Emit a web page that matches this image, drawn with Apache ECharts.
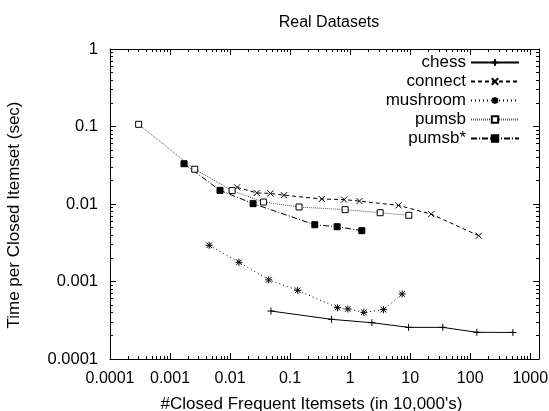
<!DOCTYPE html>
<html><head><meta charset="utf-8">
<script src="https://cdn.jsdelivr.net/npm/echarts@6/dist/echarts.min.js"></script>
<style>html,body{margin:0;padding:0;background:#fff}#c{width:549px;height:411px}</style>
</head><body><div id="c"></div>
<script>
const seriesNames = ['chess', 'connect', 'mushroom', 'pumsb', 'pumsb*'];
const chessX = [0.048, 0.49, 2.3, 9.4, 35, 129, 514];
const chessY = [0.000416, 0.000325, 0.000294, 0.000256, 0.000256, 0.000221, 0.00022];
const connectX = [0.0131, 0.0278, 0.047, 0.079, 0.337, 0.794, 1.43, 6.4, 22.4, 139];
const connectY = [0.0164, 0.0139, 0.0137, 0.0130, 0.0116, 0.0114, 0.0109, 0.0096, 0.0074, 0.0039];
const mushroomX = [0.0045, 0.0141, 0.044, 0.134, 0.615, 0.914, 1.69, 3.59, 7.36];
const mushroomY = [0.00293, 0.00177, 0.00105, 0.00077, 0.000459, 0.000442, 0.0004, 0.000433, 0.00069];
const pumsbX = [0.0003, 0.00258, 0.0108, 0.036, 0.141, 0.826, 3.16, 9.5];
const pumsbY = [0.1067, 0.0281, 0.0149, 0.0106, 0.00915, 0.00845, 0.00772, 0.00715];
const pumsbStarX = [0.00171, 0.0068, 0.0242, 0.258, 0.607, 1.565];
const pumsbStarY = [0.0331, 0.0150, 0.0101, 0.0054, 0.00509, 0.00453];
const xTickLabels = ['0.0001', '0.001', '0.01', '0.1', '1', '10', '100', '1000'];
const yTickLabels = ['0.0001', '0.001', '0.01', '0.1', '1'];
const titleText = 'Real Datasets';
const xName = "#Closed Frequent Itemsets (in 10,000's)";
const yName = 'Time per Closed Itemset (sec)';

const FONT = '"Liberation Sans", Arial, Helvetica, sans-serif';
const X_MIN = 0.0001, X_MAX = 1400, Y_MIN = 0.0001, Y_MAX = 1;

function minors(labels, maxV) {
  const out = [];
  labels.forEach(l => {
    const b = Number(l);
    for (let k = 2; k <= 9; k++) {
      const v = +(b * k).toPrecision(6);
      if (v <= maxV) out.push(v);
    }
  });
  return out;
}
const xMajors = xTickLabels.map(Number);
const yMajors = yTickLabels.map(Number);
const xMinors = minors(xTickLabels, X_MAX);
const yMinors = minors(yTickLabels, Y_MAX);

function fmt(labels, base) {
  return v => {
    const i = Math.round(Math.log10(v)) - base;
    return labels[i] !== undefined ? labels[i] : '';
  };
}
const black = {color: '#000', width: 1};

function xAxisDef(pos, major, main) {
  return {
    type: 'log', logBase: 10, min: X_MIN, max: X_MAX, position: pos, gridIndex: 0,
    axisLine: {show: major, lineStyle: black},
    axisTick: {show: true, inside: true, length: major ? 6 : 3, lineStyle: black,
               customValues: major ? xMajors : xMinors},
    axisLabel: main ? {show: true, customValues: xMajors, formatter: fmt(xTickLabels, -4),
               fontSize: 16, color: '#000', fontFamily: FONT, margin: 12} : {show: false},
    splitLine: {show: false}, minorTick: {show: false},
    name: main ? xName : '', nameLocation: 'middle', nameGap: 37,
    nameTextStyle: {fontSize: 17, color: '#000', fontFamily: FONT, padding: [0, 26, 0, 0]}
  };
}
function yAxisDef(pos, major, main) {
  return {
    type: 'log', logBase: 10, min: Y_MIN, max: Y_MAX, position: pos, gridIndex: 0,
    axisLine: {show: major, lineStyle: black},
    axisTick: {show: true, inside: true, length: major ? 6 : 3, lineStyle: black,
               customValues: major ? yMajors : yMinors},
    axisLabel: main ? {show: true, customValues: yMajors, formatter: fmt(yTickLabels, -4),
               fontSize: 16.5, color: '#000', fontFamily: FONT, margin: 12} : {show: false},
    splitLine: {show: false}, minorTick: {show: false},
    name: main ? yName : '', nameLocation: 'middle', nameGap: 87,
    nameTextStyle: {fontSize: 17, color: '#000', fontFamily: FONT, padding: [0, 22, 0, 0]}
  };
}

const SYM = {
  plus: 'path://M0,5L10,5M5,0L5,10',
  cross: 'path://M0,0L10,10M0,10L10,0',
  star: 'path://M0,5L10,5M5,0L5,10M1,1L9,9M1,9L9,1',
  square: 'path://M0,0L10,0L10,10L0,10Z'
};

function mk(name, xs, ys, sym, size, fill, dash, lineColor) {
  return {
    name: name, type: 'line', xAxisIndex: 0, yAxisIndex: 0,
    data: xs.map((v, i) => [v, ys[i]]),
    symbol: sym, symbolSize: size, showAllSymbol: true,
    lineStyle: {color: lineColor || '#000', width: 1, type: dash},
    itemStyle: {color: fill, borderColor: '#000', borderWidth: 1},
    emphasis: {disabled: true}
  };
}

const chart = echarts.init(document.getElementById('c'), null, {renderer: 'canvas'});
chart.setOption({
  animation: false,
  backgroundColor: '#fff',
  title: {text: titleText, left: 324, top: 10, textAlign: 'center',
          textStyle: {fontSize: 16, fontWeight: 'normal', color: '#000', fontFamily: FONT}},
  grid: {left: 110, right: 10, top: 49, bottom: 52, containLabel: false, outerBoundsMode: 'none'},
  legend: {
    orient: 'vertical', right: 24, top: 48, align: 'right',
    itemWidth: 48, itemHeight: 8, itemGap: 0,
    textStyle: {fontSize: 17, color: '#000', fontFamily: FONT, lineHeight: 19},
    data: seriesNames
  },
  xAxis: [xAxisDef('bottom', true, true), xAxisDef('bottom', false, false),
          xAxisDef('top', true, false), xAxisDef('top', false, false)],
  yAxis: [yAxisDef('left', true, true), yAxisDef('left', false, false),
          yAxisDef('right', true, false), yAxisDef('right', false, false)],
  series: [
    mk(seriesNames[0], chessX, chessY, SYM.plus, 7, '#000', 'solid'),
    mk(seriesNames[1], connectX, connectY, SYM.cross, 6, '#000', [4, 3]),
    mk(seriesNames[2], mushroomX, mushroomY, SYM.star, 7, '#000', [1, 3]),
    mk(seriesNames[3], pumsbX, pumsbY, SYM.square, 6, '#fff', [1, 1], '#555'),
    mk(seriesNames[4], pumsbStarX, pumsbStarY, SYM.square, 6, '#000', [6, 2, 1, 2])
  ]
});
</script>
</body></html>
